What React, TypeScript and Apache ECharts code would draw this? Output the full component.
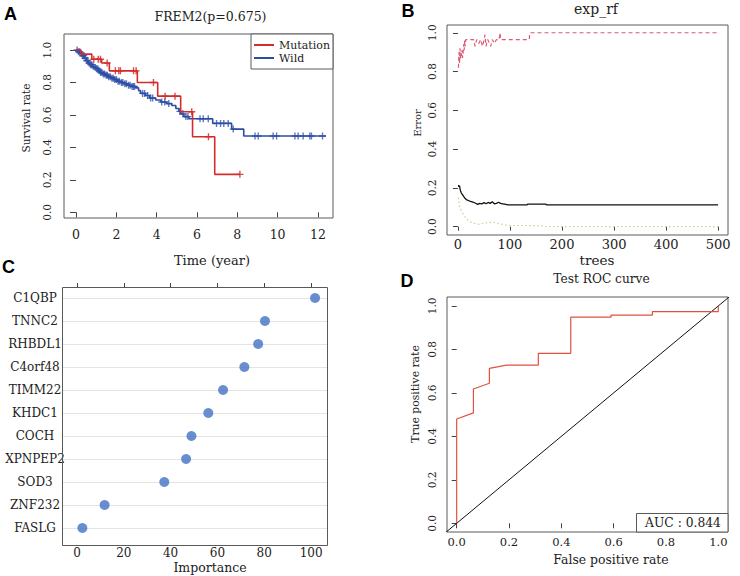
import { useEffect, useRef } from "react";
import * as echarts from "echarts";

const SERIF = "DejaVu Serif";
const SANS = "Liberation Sans";
const TXT = "#222";
const FRAME = "#5a5a5a";

// ---------- Panel A : Kaplan-Meier (FREM2) ----------
const mutTimes = [0, 0.23, 0.78, 1.27, 1.65, 3.04, 4.05, 5.19, 5.78, 6.88, 8.13];
const mutSurv = [1, 0.975, 0.943, 0.92, 0.872, 0.8, 0.716, 0.62, 0.466, 0.234, 0.234];
const mutCensorTimes = [0.88, 1.1, 1.21, 1.54, 1.95, 2.12, 2.2, 2.85, 2.98, 3.84, 4.42, 4.91, 5.74, 6.57, 8.13];

const wildTimes = [0, 0.1, 0.2, 0.3, 0.4, 0.5, 0.6, 0.7, 0.8, 0.9, 1.0, 1.1, 1.2, 1.3, 1.45, 1.6, 1.75, 1.9, 2.05, 2.2, 2.4, 2.55, 2.75, 2.95, 3.1, 3.2, 3.45, 3.65, 3.95, 4.2, 4.5, 4.75, 4.95, 5.1, 5.2, 5.35, 5.6, 6.78, 7.72, 8.32, 12.4];
const wildSurv = [1, 0.99, 0.98, 0.965, 0.95, 0.935, 0.92, 0.91, 0.9, 0.893, 0.885, 0.872, 0.862, 0.853, 0.845, 0.835, 0.827, 0.818, 0.808, 0.8, 0.792, 0.783, 0.775, 0.767, 0.75, 0.733, 0.72, 0.705, 0.692, 0.68, 0.67, 0.658, 0.64, 0.622, 0.607, 0.59, 0.577, 0.548, 0.513, 0.47, 0.47];
const wildCensorTimes = [0.05, 0.12, 0.18, 0.25, 0.32, 0.38, 0.45, 0.52, 0.58, 0.65, 0.72, 0.78, 0.85, 0.95, 1.02, 1.08, 1.15, 1.22, 1.28, 1.35, 1.42, 1.5, 1.55, 1.62, 1.7, 1.78, 1.85, 1.92, 2.0, 2.08, 2.15, 2.25, 2.32, 2.42, 2.5, 2.6, 2.68, 2.78, 2.85, 2.9, 3.3, 3.4, 3.55, 3.7, 3.8, 4.25, 4.4, 4.6, 5.15, 5.3, 5.45, 5.55, 6.15, 6.31, 6.56, 6.97, 7.17, 7.33, 7.55, 7.8, 8.88, 9.04, 9.78, 9.95, 10.86, 11.02, 11.27, 11.6, 11.68, 12.23];
const timeTicks = [0, 2, 4, 6, 8, 10, 12];
const rateTicks = [0, 0.2, 0.4, 0.6, 0.8, 1.0];

// ---------- Panel B : random forest error (exp_rf) ----------
const oobTrees = [1, 2, 3, 4, 5, 6, 7, 8, 10, 12, 14, 17, 20, 24, 29, 33, 38, 42, 46, 50, 54, 58, 62, 66, 70, 74, 78, 82, 86, 90, 96, 133, 134, 169, 170, 500];
const oobErr = [0.215, 0.205, 0.212, 0.195, 0.185, 0.178, 0.172, 0.168, 0.16, 0.152, 0.145, 0.138, 0.135, 0.13, 0.126, 0.122, 0.115, 0.12, 0.117, 0.124, 0.118, 0.125, 0.12, 0.128, 0.118, 0.12, 0.126, 0.12, 0.118, 0.116, 0.112, 0.112, 0.116, 0.116, 0.112, 0.112];
const c0Trees = [1, 2, 3, 5, 7, 9, 12, 15, 18, 22, 26, 30, 34, 38, 42, 46, 50, 55, 60, 65, 70, 75, 80, 85, 90, 95, 100, 130, 165, 170, 500];
const c0Err = [0.15, 0.125, 0.105, 0.09, 0.08, 0.07, 0.058, 0.045, 0.036, 0.028, 0.022, 0.018, 0.015, 0.013, 0.012, 0.015, 0.017, 0.02, 0.023, 0.02, 0.022, 0.018, 0.016, 0.012, 0.01, 0.008, 0.006, 0.006, 0.004, 0.0, 0.0];
const c1Trees = [1, 2, 3, 4, 5, 6, 7, 8, 9, 10, 11, 12, 13, 14, 15, 17, 20, 25, 30, 33, 36, 40, 44, 47, 50, 52, 54, 57, 60, 63, 66, 70, 74, 78, 80, 81, 82, 137, 138, 500];
const c1Err = [0.82, 0.9, 0.84, 0.92, 0.86, 0.9, 0.88, 0.91, 0.87, 0.9, 0.94, 0.91, 0.96, 0.93, 0.965, 0.965, 0.965, 0.965, 0.965, 0.93, 0.965, 0.945, 0.965, 0.93, 0.96, 0.99, 0.93, 0.965, 0.95, 0.93, 0.965, 0.945, 0.965, 0.96, 0.98, 1.0, 0.965, 0.965, 1.0, 1.0];
const treeTicks = [0, 100, 200, 300, 400, 500];
const errTicks = [0, 0.2, 0.4, 0.6, 0.8, 1.0];

// ---------- Panel C : importance ----------
const genes = ["C1QBP", "TNNC2", "RHBDL1", "C4orf48", "TIMM22", "KHDC1", "COCH", "XPNPEP2", "SOD3", "ZNF232", "FASLG"];
const importance = [101.7, 80.3, 77.4, 71.5, 62.4, 56.1, 48.9, 46.6, 37.3, 11.8, 2.3];
const impTicks = [0, 20, 40, 60, 80, 100];

// ---------- Panel D : ROC ----------
const fpr = [0, 0, 0.064, 0.064, 0.125, 0.125, 0.19, 0.312, 0.312, 0.436, 0.436, 0.59, 0.59, 0.748, 0.748, 1, 1];
const tpr = [0, 0.48, 0.508, 0.618, 0.644, 0.713, 0.728, 0.728, 0.782, 0.782, 0.948, 0.948, 0.958, 0.958, 0.974, 0.974, 1];
const diagonal = [-0.1, 1.1];
const rocTicks = [0, 0.2, 0.4, 0.6, 0.8, 1.0];
const aucText = "AUC : 0.844";

const RED = "#d42c2c";
const BLUE = "#2c4ca6";
const PLUS = "path://M4,0H6V4H10V6H6V10H4V6H0V4H4Z";

function survAt(times: number[], surv: number[], t: number) {
  let v = surv[0];
  for (let i = 0; i < times.length; i++) if (times[i] <= t) v = surv[i];
  return v;
}

function valueAxis(gridIndex: number, min: number, max: number, ticks: number[], o: any) {
  return {
    type: "value",
    gridIndex,
    min,
    max,
    position: o.position,
    axisLine: { show: false },
    splitLine: { show: false },
    axisTick: {
      show: o.tick !== false,
      length: o.tickLen ?? 5,
      customValues: ticks,
      lineStyle: { color: "#444", width: 1 },
    },
    axisLabel: {
      show: o.label !== false,
      customValues: ticks,
      formatter: o.fmt ?? ((v: number) => String(v)),
      fontFamily: SERIF,
      fontSize: o.fontSize ?? 12,
      color: TXT,
      margin: o.margin ?? 8,
      rotate: o.rotate ?? 0,
    },
    offset: o.offset ?? 0,
  };
}

function txt(text: string, x: number, y: number, size: number, rot = 0, family = SERIF, weight: any = "normal") {
  return {
    type: "text",
    x,
    y,
    rotation: rot,
    z: 100,
    style: {
      text,
      fontFamily: family,
      fontSize: size,
      fontWeight: weight,
      fill: weight === "bold" ? "#000" : TXT,
      align: "center",
      verticalAlign: "middle",
    },
  };
}

export default function App() {
  const ref = useRef<HTMLDivElement>(null);
  useEffect(() => {
    if (!ref.current) return;
    const chart = echarts.init(ref.current, undefined, { renderer: "svg" });
    const f1 = (v: number) => v.toFixed(1);
    const option: any = {
      animation: false,
      backgroundColor: "#fff",
      grid: [
        { left: 64, top: 34, width: 269, height: 184, show: true, borderColor: FRAME, borderWidth: 1, backgroundColor: "transparent" },
        { left: 447, top: 25, width: 281, height: 210, show: true, borderColor: FRAME, borderWidth: 1, backgroundColor: "transparent" },
        { left: 62, top: 298, width: 265, height: 230, show: false },
        { left: 447, top: 297, width: 281, height: 235, show: true, borderColor: FRAME, borderWidth: 1, backgroundColor: "transparent" },
      ],
      xAxis: [
        valueAxis(0, -0.6, 12.75, timeTicks, { fontSize: 12.5, margin: 10 }),
        valueAxis(1, -21, 519, treeTicks, { fontSize: 13, margin: 3, tickLen: 4 }),
        valueAxis(2, -6.4, 106.8, impTicks, { fontSize: 12, margin: 2, tick: false, offset: 17, position: "bottom" }),
        valueAxis(2, -6.4, 106.8, impTicks, { label: false, tickLen: 4, offset: 11, position: "top" }),
        valueAxis(3, -0.037, 1.037, rocTicks, { fontSize: 11.5, margin: 4, fmt: f1 }),
      ],
      yAxis: [
        valueAxis(0, -0.035, 1.099, rateTicks, { fontSize: 10.5, margin: 12, rotate: 90, fmt: f1, tickLen: 6 }),
        valueAxis(1, -0.043, 1.04, errTicks, { fontSize: 10.5, margin: 10, rotate: 90, fmt: f1 }),
        {
          type: "category",
          gridIndex: 2,
          data: genes,
          inverse: true,
          boundaryGap: false,
          axisLine: { show: false },
          axisTick: { show: false },
          splitLine: { show: true, interval: 0, lineStyle: { color: "#e4e4e4", width: 1 } },
          axisLabel: { interval: 0, align: "center", margin: 27, fontFamily: SERIF, fontSize: 12, color: TXT },
        },
        valueAxis(3, -0.04, 1.041, rocTicks, { fontSize: 10.5, margin: 10, rotate: 90, fmt: f1 }),
      ],
      legend: {
        data: ["Mutation", "Wild"],
        orient: "vertical",
        left: 251,
        top: 34,
        padding: [5, 3, 5, 3],
        itemGap: 1,
        itemWidth: 20,
        itemHeight: 2,
        icon: "rect",
        selectedMode: false,
        backgroundColor: "#fff",
        borderColor: FRAME,
        borderWidth: 1,
        textStyle: { fontFamily: SERIF, fontSize: 11, color: TXT, lineHeight: 12 },
      },
      series: [
        {
          name: "Wild",
          type: "line",
          step: "end",
          xAxisIndex: 0,
          yAxisIndex: 0,
          color: BLUE,
          symbol: "none",
          lineStyle: { color: BLUE, width: 1.6 },
          data: wildTimes.map((t, i) => [t, wildSurv[i]]),
        },
        {
          name: "Wild censor",
          type: "scatter",
          xAxisIndex: 0,
          yAxisIndex: 0,
          symbol: PLUS,
          symbolSize: 7,
          itemStyle: { color: BLUE, opacity: 0.75 },
          data: wildCensorTimes.map((t) => [t, survAt(wildTimes, wildSurv, t)]),
        },
        {
          name: "Mutation",
          type: "line",
          step: "end",
          xAxisIndex: 0,
          yAxisIndex: 0,
          color: RED,
          symbol: "none",
          lineStyle: { color: RED, width: 1.6 },
          data: mutTimes.map((t, i) => [t, mutSurv[i]]),
        },
        {
          name: "Mutation censor",
          type: "scatter",
          xAxisIndex: 0,
          yAxisIndex: 0,
          symbol: PLUS,
          symbolSize: 7,
          itemStyle: { color: RED, opacity: 0.85 },
          data: mutCensorTimes.map((t) => [t, survAt(mutTimes, mutSurv, t)]),
        },
        {
          name: "OOB",
          type: "line",
          xAxisIndex: 1,
          yAxisIndex: 1,
          symbol: "none",
          lineStyle: { color: "#111", width: 1.3 },
          data: oobTrees.map((t, i) => [t, oobErr[i]]),
        },
        {
          name: "class0",
          type: "line",
          xAxisIndex: 1,
          yAxisIndex: 1,
          symbol: "none",
          lineStyle: { color: "#b7d88e", width: 1.2, type: [1.5, 2.5] },
          data: c0Trees.map((t, i) => [t, c0Err[i]]),
        },
        {
          name: "class1",
          type: "line",
          xAxisIndex: 1,
          yAxisIndex: 1,
          symbol: "none",
          lineStyle: { color: "#dc5a74", width: 1.2, type: [4, 3] },
          data: c1Trees.map((t, i) => [t, c1Err[i]]),
        },
        {
          name: "Importance",
          type: "scatter",
          xAxisIndex: 2,
          yAxisIndex: 2,
          symbol: "circle",
          symbolSize: 10,
          itemStyle: { color: "#4472c4" },
          data: genes.map((g, i) => [importance[i], g]),
        },
        {
          name: "diag",
          type: "line",
          xAxisIndex: 4,
          yAxisIndex: 3,
          symbol: "none",
          lineStyle: { color: "#111", width: 1 },
          data: diagonal.map((v) => [v, v]),
        },
        {
          name: "ROC",
          type: "line",
          xAxisIndex: 4,
          yAxisIndex: 3,
          symbol: "none",
          lineStyle: { color: "#e0523f", width: 1.2 },
          data: fpr.map((v, i) => [v, tpr[i]]),
        },
      ],
      graphic: [
        { type: "rect", z: 90, shape: { x: 62.5, y: 287.5, width: 265, height: 258 }, style: { fill: "none", stroke: FRAME, lineWidth: 1 } },
        { type: "rect", z: 90, shape: { x: 636.5, y: 513.5, width: 91.5, height: 18.5 }, style: { fill: "#fff", stroke: FRAME, lineWidth: 1 } },
        txt(aucText, 683, 522.5, 12.3),
        txt("FREM2(p=0.675)", 210.5, 16, 12.5),
        txt("Time (year)", 212, 260, 13),
        txt("Survival rate", 25.5, 118, 10.5, Math.PI / 2),
        txt("exp_rf", 596, 8.5, 14),
        txt("trees", 597, 260, 13.5),
        txt("Error", 417, 123, 10, Math.PI / 2),
        txt("Importance", 210, 567.5, 12.5),
        txt("Test ROC curve", 601.5, 279, 12.2),
        txt("False positive rate", 611, 559, 12.4),
        txt("True positive rate", 415, 394, 10.8, Math.PI / 2),
        txt("A", 10.5, 14, 18, 0, SANS, "bold"),
        txt("B", 408, 11, 18, 0, SANS, "bold"),
        txt("C", 8.5, 266.5, 18, 0, SANS, "bold"),
        txt("D", 407, 281, 18, 0, SANS, "bold"),
      ],
    };
    chart.setOption(option);
    return () => chart.dispose();
  }, []);
  return (
    <div
      ref={ref}
      style={{ position: "absolute", left: 0, top: 0, width: 740, height: 576, background: "#fff" }}
    />
  );
}
